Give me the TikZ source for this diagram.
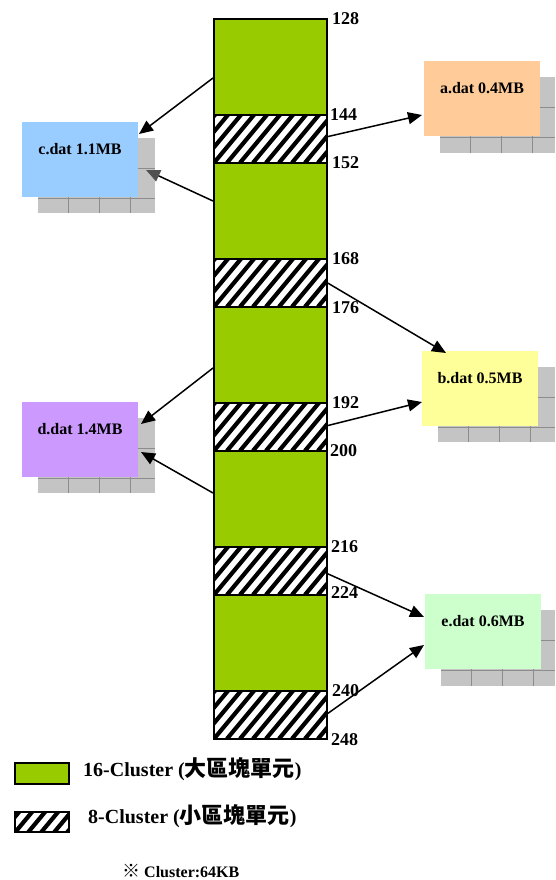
\documentclass[tikz,border=0pt]{standalone}
\usepackage{fontspec}
\setmainfont{Liberation Serif}
\newfontfamily\cjk{Noto Sans CJK TC}
\usetikzlibrary{arrows.meta}
\definecolor{blockgreen}{HTML}{99CC00}
\definecolor{cfill}{HTML}{99CCFF}
\definecolor{afill}{HTML}{FFCC99}
\definecolor{bfill}{HTML}{FFFF99}
\definecolor{dfill}{HTML}{CC99FF}
\definecolor{efill}{HTML}{CCFFCC}
\definecolor{shadowfill}{HTML}{C4C4C4}
\definecolor{shadowline}{HTML}{8C8C8C}
\definecolor{headgray}{HTML}{505050}
\tikzset{
  colblock/.style={draw, line width=1.8pt, minimum width=113pt, inner sep=0pt, anchor=north west},
  greenblock/.style={colblock, fill=blockgreen, minimum height=96pt},
  hatchfill/.style={fill=white, path picture={
      \foreach \k in {-6,...,12}
        \draw[line width=4.2pt] ([xshift=\k*13pt]path picture bounding box.south west) -- ++(45pt,54pt);}},
  hatchblock/.style={colblock, hatchfill, minimum height=48pt},
  numlabel/.style={font=\fontsize{18}{18}\selectfont\bfseries, anchor=west, inner sep=0pt},
  filebox/.style={minimum width=116pt, minimum height=75pt, inner sep=0pt, anchor=north west},
  filetext/.style={font=\fontsize{16}{16}\selectfont\bfseries, inner sep=0pt},
  conn/.style={-{Triangle[length=14pt,width=12pt]}, line width=1.5pt},
  legtext/.style={font=\fontsize{20}{20}\selectfont\bfseries, anchor=west, inner sep=0pt}
}
\newcommand\cjkbig[1]{{\cjk\fontsize{22}{22}\selectfont\bfseries #1}}
\newcommand\fileshadow[4]{%
  \fill[shadowfill] (#1,#2) rectangle (#3,#4);
  \begin{scope}
    \clip (#1,#2) rectangle (#3,#4);
    \foreach \i in {0,...,4} \draw[shadowline, line width=0.8pt] ({#1+30+31*\i},#2) -- ({#1+30+31*\i},#4);
    \foreach \j in {0,...,3} \draw[shadowline, line width=0.8pt] (#1,{#2+30+30*\j}) -- (#3,{#2+30+30*\j});
  \end{scope}}
\begin{document}
\begin{tikzpicture}[x=1pt,y=-1pt]
\path[use as bounding box, fill=white] (0,0) rectangle (555,880);

% column
\node[greenblock] (g1) at (213,18) {};
\node[hatchblock] (h1) at (213,114) {};
\node[greenblock] (g2) at (213,162) {};
\node[hatchblock] (h2) at (213,258) {};
\node[greenblock] (g3) at (213,306) {};
\node[hatchblock] (h3) at (213,402) {};
\node[greenblock] (g4) at (213,450) {};
\node[hatchblock] (h4) at (213,546) {};
\node[greenblock] (g5) at (213,594) {};
\node[hatchblock] (h5) at (213,690) {};

% numbers
\node[numlabel] (n128) at (332,19) {128};
\node[numlabel] (n144) at (330,115) {144};
\node[numlabel] (n152) at (332,163) {152};
\node[numlabel] (n168) at (332,259) {168};
\node[numlabel] (n176) at (332,308) {176};
\node[numlabel] (n192) at (332,403) {192};
\node[numlabel] (n200) at (330,451) {200};
\node[numlabel] (n216) at (331,547) {216};
\node[numlabel] (n224) at (331,593) {224};
\node[numlabel] (n240) at (332,691) {240};
\node[numlabel] (n248) at (331,740) {248};

% shadows
\fileshadow{38}{138}{155}{213}
\fileshadow{440}{77}{555}{153}
\fileshadow{438}{367}{555}{442}
\fileshadow{38}{418}{155}{493}
\fileshadow{441}{610}{555}{686}

% file boxes
\node[filebox, fill=cfill] (c) at (22,122) {};
\node[filebox, fill=afill] (a) at (424,61) {};
\node[filebox, fill=bfill] (b) at (422,351) {};
\node[filebox, fill=dfill] (d) at (22,402) {};
\node[filebox, fill=efill] (e) at (425,594) {};
\node[filetext] (ct) at (80,149) {c.dat 1.1MB};
\node[filetext] (at) at (482,88) {a.dat 0.4MB};
\node[filetext] (bt) at (480,378) {b.dat 0.5MB};
\node[filetext] (dt) at (80,429) {d.dat 1.4MB};
\node[filetext] (et) at (483,621) {e.dat 0.6MB};

% connector end points
\coordinate (s1) at (213,78);   \coordinate (t1) at (139,134);
\coordinate (s2) at (213,201);  \coordinate (t2) at (146,170);
\coordinate (s3) at (326,137);  \coordinate (t3) at (422,115);
\coordinate (s4) at (326,282);  \coordinate (t4) at (446,353);
\coordinate (s5) at (326,426);  \coordinate (t5) at (422,402);
\coordinate (s6) at (213,368);  \coordinate (t6) at (141,424);
\coordinate (s7) at (213,493);  \coordinate (t7) at (141,452);
\coordinate (s8) at (326,573);  \coordinate (t8) at (424,617);
\coordinate (s9) at (327,714);  \coordinate (t9) at (424,645);

\draw[conn] (s1) -- (t1);
\draw[line width=1.5pt, -{Triangle[length=14pt,width=12pt,fill=headgray,color=headgray]}] (s2) -- (t2);
\draw[conn] (s3) -- (t3);
\draw[conn] (s4) -- (t4);
\draw[conn] (s5) -- (t5);
\draw[conn] (s6) -- (t6);
\draw[conn] (s7) -- (t7);
\draw[conn] (s8) -- (t8);
\draw[conn] (s9) -- (t9);

% legend
\node[draw, line width=2.4pt, fill=blockgreen, minimum width=54pt, minimum height=21pt, inner sep=0pt, anchor=north west] (lg) at (14,762) {};
\node[draw, line width=2.4pt, hatchfill, minimum width=54pt, minimum height=20pt, inner sep=0pt, anchor=north west] (lh) at (14,811) {};
\node[legtext] (lgt) at (83,769) {16-Cluster (\cjkbig{大區塊單元})};
\node[legtext] (lht) at (88,816) {8-Cluster (\cjkbig{小區塊單元})};
\node[font=\fontsize{16}{16}\selectfont\bfseries, anchor=west, inner sep=0pt] (note) at (122,871) {{\cjk\fontsize{18}{18}\selectfont\bfseries ※} Cluster:64KB};
\end{tikzpicture}
\end{document}
